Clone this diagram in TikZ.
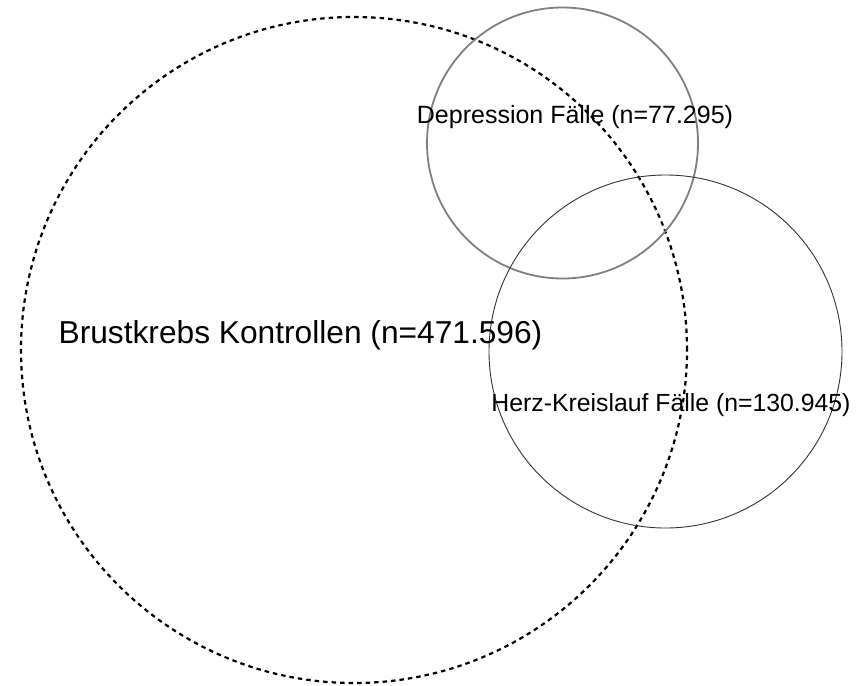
\documentclass[tikz,border=0pt]{standalone}
\usepackage{fontspec}
\setmainfont{Liberation Sans}
\begin{document}
\begin{tikzpicture}[x=1pt,y=-1pt,
  ring/.style={circle,inner sep=0pt,outer sep=0pt},
  brustring/.style={ring,draw=black,line width=2.2pt,dash pattern=on 4.5pt off 4pt},
  depring/.style={ring,draw=black!50,line width=1.8pt},
  herzring/.style={ring,draw=black!80,line width=0.9pt},
  lbl/.style={anchor=base,inner sep=0pt,text=black}]
\useasboundingbox (0,0) rectangle (861,685);
\fill[white] (0,0) rectangle (861,685);
\node[brustring,minimum size=666pt] (brust) at (354,350) {};
\node[depring,minimum size=271pt] (dep) at (562.5,143) {};
\node[herzring,minimum size=353pt] (herz) at (665.5,351.5) {};
\node[lbl,font=\fontsize{31.7}{36}\selectfont] (brustlbl) at (300.5,343) {Brustkrebs Kontrollen (n=471.596)};
\node[lbl,font=\fontsize{25}{30}\selectfont] (deplbl) at (575,123) {Depression Fälle (n=77.295)};
\node[lbl,font=\fontsize{24.8}{30}\selectfont] (herzlbl) at (671,411) {Herz-Kreislauf Fälle (n=130.945)};
\end{tikzpicture}
\end{document}
